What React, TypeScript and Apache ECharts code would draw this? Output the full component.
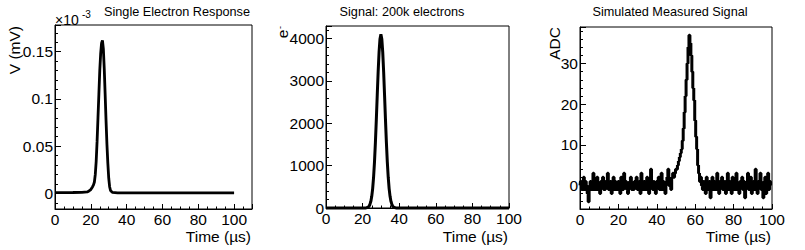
import React, { useEffect, useRef } from "react";
import * as echarts from "echarts";

const FONT = "'Liberation Sans', Arial, Helvetica, sans-serif";

// Panel 1: single electron response (values in units of 1e-3 mV)
const SER_TIME = [0, 10, 15, 18, 19, 20, 21, 21.5, 22, 22.5, 23, 23.5, 24, 24.5, 25, 25.5, 26, 26.5, 27, 27.5, 28, 28.5, 29, 29.5, 30, 30.5, 31, 32, 35, 100];
const SER_VALUE = [0.0008, 0.0009, 0.0011, 0.0015, 0.0025, 0.004, 0.007, 0.009, 0.012, 0.02, 0.034, 0.055, 0.08, 0.105, 0.13, 0.148, 0.159, 0.162, 0.153, 0.132, 0.105, 0.077, 0.052, 0.032, 0.016, 0.007, 0.003, 0.001, 0.0005, 0.0005];

// Panel 2: signal of 200k electrons
const SIG_TIME = [0, 21.5, 22, 22.5, 23, 23.5, 24, 24.5, 25, 25.5, 26, 26.5, 27, 27.5, 28, 28.5, 29, 29.5, 30, 30.5, 31, 31.5, 32, 32.5, 33, 33.5, 34, 34.5, 35, 35.5, 36, 36.5, 37, 37.5, 38, 38.5, 100];
const SIG_VALUE = [0, 0, 4, 9, 20, 43, 84, 156, 276, 459, 726, 1090, 1550, 2085, 2660, 3215, 3680, 3990, 4100, 3990, 3680, 3215, 2660, 2085, 1550, 1090, 726, 459, 276, 156, 84, 43, 20, 9, 4, 0, 0];

// Panel 3: simulated measured signal (ADC counts, 0.5 us bins)
const ADC_BIN_US = 0.5;
const ADC_VALUE = [
  0, 1, -1, 0, 2, -1, 1, 0, -2, -4, -1, 1, 0, -1, 3, 0, -1, 1, 2, -1,
  0, -2, 1, 0, 2, -1, -1, 1, 0, 3, -1, 0, 1, -2, 0, 2, -1, 1, 0, -1,
  1, 0, -2, 2, 0, -1, 3, 0, 1, -1, -2, 0, 1, 2, -1, 0, -1, 1, 0, 2,
  -1, 0, 1, -2, 3, 0, -1, 1, 0, -1, 2, 0, -2, 1, 4, 0, -1, 1, 0, -2,
  1, 0, 2, -1, 0, 3, -1, 1, 0, -2, 1, 2, 4, 0, 1, -1, 2, 3,
  2, 3, 4, 4, 5, 6, 7, 8, 9, 11, 14, 18, 22, 26, 30, 34, 37, 35, 32, 28,
  24, 21, 16, 12, 9, 5, 3, 1, 2, 0,
  -1, 1, 0, -2, 2, -1, 0, 1, -3, 0, 2, -1, 1, 0, -1, 3, 0, -2, 1, 0,
  2, -1, 0, 1, -2, 0, 3, -1, 1, 0, -2, 2, 0, -1, 1, 3, -1, 0, -2, 1,
  0, 2, -1, 1, -3, 0, 1, 3, -1, 0, 2, -2, 0, 1, -1, 4, 0, -2, 1, 0,
  3, -1, 0, -3, 1, 2, -2, 0, 3, -1, 1, 0,
];

const TITLES = ["Single Electron Response", "Signal: 200k electrons", "Simulated Measured Signal"];
const X_TITLE = "Time (µs)";

const GRIDS = [
  { left: 55, top: 25, width: 197, height: 184 },
  { left: 326, top: 26, width: 183, height: 182 },
  { left: 580, top: 27, width: 192, height: 182 },
];

const plain = (v: number) => String(v);

function xAxis(gridIndex: number, max: number, showMax: boolean) {
  return {
    type: "value",
    gridIndex,
    min: 0,
    max,
    interval: 20,
    axisLine: { show: true, onZero: false, lineStyle: { color: "#000", width: 1 } },
    axisTick: { show: true, inside: true, length: 5, lineStyle: { color: "#000", width: 1 } },
    minorTick: { show: true, splitNumber: 4, length: 2.5, lineStyle: { color: "#000", width: 1 } },
    splitLine: { show: false },
    axisLabel: { color: "#000", fontSize: 15.5, fontFamily: FONT, margin: 2, showMaxLabel: showMax, formatter: plain },
  };
}

function yAxis(gridIndex: number, extra: any, showMin: boolean) {
  return {
    type: "value",
    gridIndex,
    axisLine: { show: true, onZero: false, lineStyle: { color: "#000", width: 1 } },
    axisTick: { show: true, inside: true, length: 6, lineStyle: { color: "#000", width: 1 } },
    minorTick: { show: true, splitNumber: 5, length: 3, lineStyle: { color: "#000", width: 1 } },
    splitLine: { show: false },
    axisLabel: { color: "#000", fontSize: 15.5, fontFamily: FONT, margin: 2, showMinLabel: showMin, showMaxLabel: false, formatter: plain },
    ...extra,
  };
}

function lineSeries(idx: number, data: number[][], width: number, step?: any) {
  return {
    type: "line",
    xAxisIndex: idx,
    yAxisIndex: idx,
    data,
    symbol: "none",
    showSymbol: false,
    step: step || false,
    clip: false,
    lineStyle: { color: "#000", width },
  };
}

function txt(text: string, x: number, y: number, opts: any = {}) {
  return {
    type: "text",
    x,
    y,
    rotation: opts.rotation || 0,
    style: {
      text,
      fill: "#000",
      fontSize: opts.fontSize || 15.5,
      fontFamily: FONT,
      align: opts.align || "left",
      verticalAlign: opts.verticalAlign || "middle",
    },
  };
}

export default function App() {
  const ref = useRef<HTMLDivElement>(null);
  useEffect(() => {
    if (!ref.current) return;
    const chart = echarts.init(ref.current, undefined, { renderer: "svg" });
    const serData = SER_TIME.map((t, i) => [t, SER_VALUE[i]]);
    const sigData = SIG_TIME.map((t, i) => [t, SIG_VALUE[i]]);
    const adcData = ADC_VALUE.map((v, i) => [i * ADC_BIN_US, v]);
    chart.setOption({
      animation: false,
      backgroundColor: "#fff",
      grid: GRIDS.map((g) => ({ ...g, show: true, borderColor: "#000", borderWidth: 1, backgroundColor: "transparent" })),
      xAxis: [xAxis(0, 110, false), xAxis(1, 100, true), xAxis(2, 100, true)],
      yAxis: [
        yAxis(0, { min: -0.0166, max: 0.1783, splitNumber: 4 }, false),
        yAxis(1, { min: 0, max: 4296, interval: 1000 }, true),
        yAxis(2, { min: -5.8, max: 39, splitNumber: 4 }, false),
      ],
      series: [
        lineSeries(0, serData, 2.8),
        lineSeries(1, sigData, 3),
        lineSeries(2, adcData, 3, "middle"),
      ],
      graphic: [
        txt(TITLES[0], 104, 12, { fontSize: 12.7 }),
        txt(TITLES[1], 402, 12, { fontSize: 12.7, align: "center" }),
        txt(TITLES[2], 670, 11.5, { fontSize: 12.7, align: "center" }),
        txt("×10", 55, 19.5, { fontSize: 14 }),
        txt("-3", 82, 14, { fontSize: 10 }),
        txt("V (mV)", 14, 26, { rotation: Math.PI / 2, align: "right" }),
        txt("e", 282, 29.5, { rotation: Math.PI / 2, align: "right" }),
        txt("-", 279.5, 26, { rotation: Math.PI / 2, align: "right", fontSize: 9 }),
        txt("ADC", 554, 27, { rotation: Math.PI / 2, align: "right" }),
        txt(X_TITLE, 251, 236, { align: "right" }),
        txt(X_TITLE, 508, 236, { align: "right" }),
        txt(X_TITLE, 771, 236, { align: "right" }),
      ],
    });
    return () => chart.dispose();
  }, []);
  return <div ref={ref} style={{ position: "absolute", left: 0, top: 0, width: 805, height: 250 }} />;
}
